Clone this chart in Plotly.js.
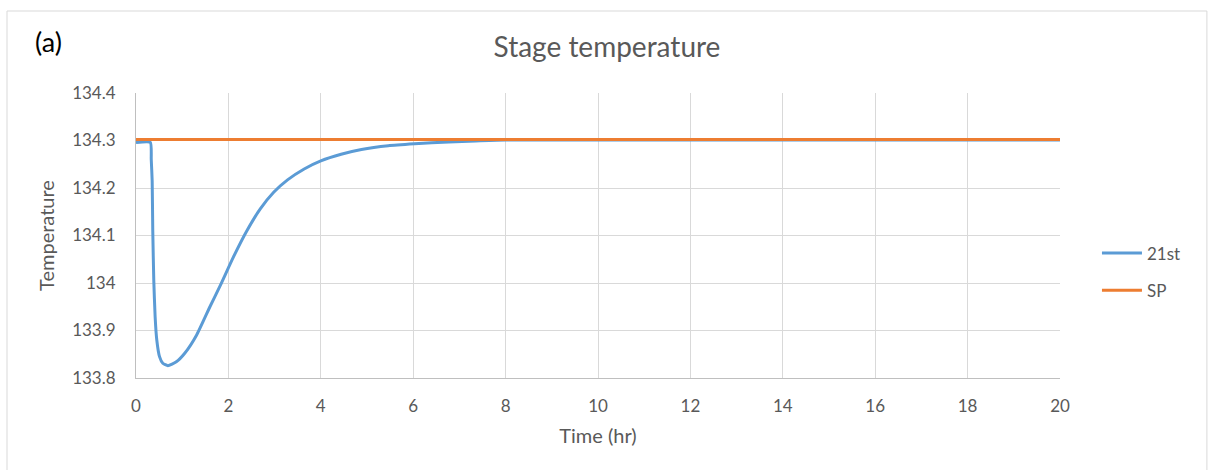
<!DOCTYPE html>
<html>
<head>
<meta charset="utf-8">
<script src="https://cdn.plot.ly/plotly-3.0.1.min.js"></script>
<style>
html,body{margin:0;padding:0;background:#fff;}
#chart{width:1214px;height:470px;}
</style>
</head>
<body>
<div id="chart"></div>
<script>
// Data
const time21 = [0, 0.31, 0.33, 0.35, 0.363, 0.385, 0.414, 0.45, 0.509, 0.58, 0.69, 0.873, 1.055, 1.31, 1.6, 1.82, 2.11, 2.40, 2.69, 2.98, 3.28, 3.64, 4.0, 4.44, 4.88, 5.46, 6.03, 6.77, 7.35, 8, 10, 20];
const temp21 = [134.296, 134.296, 134.26, 134.215, 134.11, 134.005, 133.929, 133.88, 133.845, 133.831, 133.826, 133.834, 133.852, 133.89, 133.95, 133.994, 134.055, 134.11, 134.156, 134.191, 134.217, 134.24, 134.257, 134.271, 134.281, 134.289, 134.293, 134.297, 134.299, 134.301, 134.301, 134.301];
const timeSP = [0, 20];
const tempSP = [134.302, 134.302];
const seriesNames = ["21st", "SP"];
const chartTitle = "Stage temperature";
const xTitle = "Time (hr)";
const yTitle = "Temperature";
const panelLabel = "(a)";

const FONT = "Lato, 'Open Sans', sans-serif";
const grey = "#595959";

const traces = [
  {x: time21, y: temp21, name: seriesNames[0], type: "scatter", mode: "lines",
   line: {color: "#5B9BD5", width: 3, shape: "spline", smoothing: 0.5}, legendgroup: "a"},
  {x: timeSP, y: tempSP, name: seriesNames[1], type: "scatter", mode: "lines",
   line: {color: "#ED7D31", width: 3}, legendgroup: "b"}
];

const layout = {
  width: 1214, height: 470,
  margin: {l: 136, r: 154, t: 93, b: 92},
  paper_bgcolor: "#fff", plot_bgcolor: "#fff",
  font: {family: FONT, color: grey, size: 17},
  title: {text: chartTitle, font: {family: FONT, size: 28, color: grey}, x: 0.5, xanchor: "center", y: 0.9, yanchor: "middle"},
  xaxis: {
    range: [0, 20], dtick: 2, tick0: 0, showgrid: true, gridcolor: "#d9d9d9", gridwidth: 1,
    showline: true, linecolor: "#bfbfbf", linewidth: 1, zeroline: false, ticks: "",
    tickfont: {family: FONT, size: 17, color: grey}, ticklabelstandoff: 13,
    title: {text: xTitle, font: {family: FONT, size: 20, color: grey}, standoff: 13}
  },
  yaxis: {
    range: [133.8, 134.4], dtick: 0.1, tick0: 133.8, showgrid: true, gridcolor: "#d9d9d9", gridwidth: 1,
    showline: true, linecolor: "#bfbfbf", linewidth: 1, zeroline: false, ticks: "",
    tickfont: {family: FONT, size: 17, color: grey}, ticklabelstandoff: 16,
    title: {text: yTitle, font: {family: FONT, size: 20, color: grey}, standoff: 12}
  },
  showlegend: true,
  legend: {x: 1.04, y: 0.372, xanchor: "left", yanchor: "middle", font: {family: FONT, size: 17, color: grey},
           tracegroupgap: 12, traceorder: "grouped", bgcolor: "rgba(0,0,0,0)", itemwidth: 40},
  annotations: [
    {text: panelLabel, xref: "paper", yref: "paper", x: -0.0952, y: 1.179, xanchor: "center", yanchor: "middle",
     showarrow: false, font: {family: FONT, size: 27, color: "#000"}}
  ],
  shapes: [
    {type: "rect", xref: "paper", yref: "paper", x0: -0.1396, x1: 1.159, y0: -0.4, y1: 1.2877,
     line: {color: "#d9d9d9", width: 1}, fillcolor: "rgba(0,0,0,0)", layer: "below"}
  ]
};

Plotly.newPlot("chart", traces, layout, {displayModeBar: false, staticPlot: true});
</script>
</body>
</html>
